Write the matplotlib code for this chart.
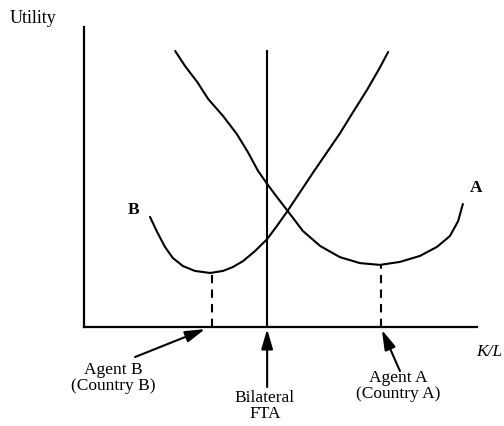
import matplotlib
matplotlib.use('Agg')
import matplotlib.pyplot as plt

# curve B (agent B utility)
b_x = [1.68, 1.86, 2.06, 2.26, 2.52, 2.82, 3.21, 3.54, 3.79, 4.05, 4.35, 4.66, 4.91, 5.17,
       5.50, 5.83, 6.18, 6.51, 6.84, 7.20, 7.53, 7.74]
b_y = [3.67, 3.17, 2.67, 2.30, 2.03, 1.87, 1.80, 1.87, 2.00, 2.20, 2.53, 2.93, 3.37, 3.85,
       4.50, 5.15, 5.82, 6.45, 7.15, 7.90, 8.65, 9.17]

# curve A (agent A utility)
a_x = [2.32, 2.57, 2.88, 3.16, 3.54, 3.89, 4.17, 4.43, 4.66, 4.91, 5.24, 5.57, 6.01, 6.51,
       7.02, 7.53, 8.04, 8.55, 8.98, 9.31, 9.52, 9.64]
a_y = [9.20, 8.70, 8.17, 7.60, 7.03, 6.43, 5.83, 5.20, 4.77, 4.33, 3.77, 3.20, 2.70, 2.33,
       2.13, 2.07, 2.17, 2.37, 2.67, 3.03, 3.53, 4.10]

fta_x = 4.66
fta_top = 9.2
b_opt = (3.26, 1.80)
a_opt = (7.56, 2.07)

plt.rcParams['font.family'] = ['Liberation Serif', 'DejaVu Serif']

fig = plt.figure(figsize=(5.04, 4.27), dpi=100)
ax = fig.add_axes([84 / 504, 99 / 427, 393 / 504, 300 / 427])
ax.set_xlim(0, 10)
ax.set_ylim(0, 10)
for s in ['top', 'right']:
    ax.spines[s].set_visible(False)
for s in ['left', 'bottom']:
    ax.spines[s].set_linewidth(1.6)
ax.set_xticks([])
ax.set_yticks([])

lw = 1.5
ax.plot(b_x, b_y, color='black', lw=lw, solid_capstyle='round', solid_joinstyle='round')
ax.plot(a_x, a_y, color='black', lw=lw, solid_capstyle='round', solid_joinstyle='round')
ax.plot([fta_x, fta_x], [0, fta_top], color='black', lw=lw)
ax.plot([b_opt[0], b_opt[0]], [0, b_opt[1]], color='black', lw=lw, ls=(0, (4, 3)))
ax.plot([a_opt[0], a_opt[0]], [0, a_opt[1]], color='black', lw=lw, ls=(0, (4, 3)))

fs = 12.5
ax.text(1.27, 3.93, 'B', fontsize=fs, ha='center', va='center', fontweight='bold')
ax.text(9.97, 4.67, 'A', fontsize=fs, ha='center', va='center', fontweight='bold')
ax.text(-1.3, 10.33, 'Utility', fontsize=fs + 0.5, ha='center', va='center', clip_on=False)
ax.text(10.3, -0.8, 'K/L', fontsize=fs, ha='center', va='center', style='italic', clip_on=False)

arr = dict(arrowstyle='-|>,head_length=1.2,head_width=0.35', color='black', lw=1.5,
           shrinkA=0, shrinkB=0, mutation_scale=10)
ax.annotate('', xy=(3.08, -0.07), xytext=(1.3, -1.0), arrowprops=arr, annotation_clip=False)
ax.annotate('', xy=(fta_x, -0.07), xytext=(fta_x, -2.0), arrowprops=arr, annotation_clip=False)
ax.annotate('', xy=(7.58, -0.1), xytext=(8.04, -1.47), arrowprops=arr, annotation_clip=False)

ax.text(0.74, -1.67, 'Agent B\n(Country B)', fontsize=fs, ha='center', va='center',
        linespacing=0.95, clip_on=False)
ax.text(4.6, -2.6, 'Bilateral\nFTA', fontsize=fs, ha='center', va='center',
        linespacing=0.95, clip_on=False)
ax.text(7.99, -1.93, 'Agent A\n(Country A)', fontsize=fs, ha='center', va='center',
        linespacing=0.95, clip_on=False)

fig.savefig('out.png', dpi=100)
